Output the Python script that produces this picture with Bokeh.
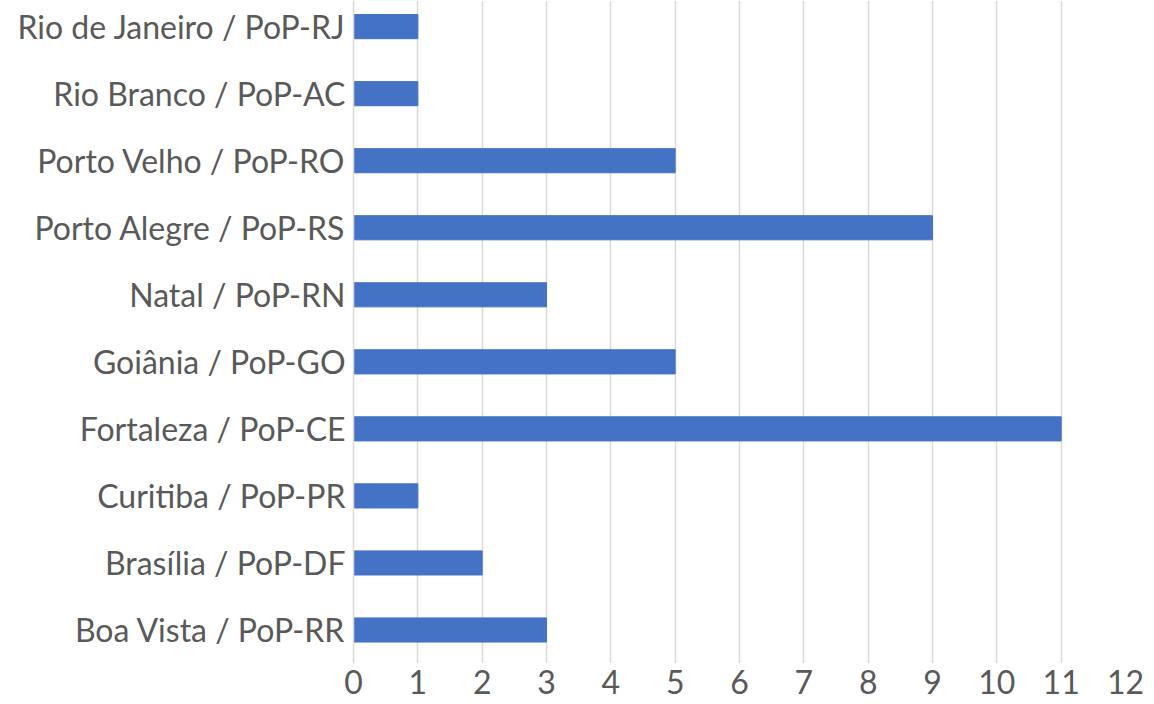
from bokeh.plotting import figure
from bokeh.models import Range1d, FixedTicker
from bokeh.embed import file_html
from bokeh.resources import INLINE

categories = ["Boa Vista / PoP-RR", "Brasília / PoP-DF", "Curitiba / PoP-PR",
              "Fortaleza / PoP-CE", "Goiânia / PoP-GO", "Natal / PoP-RN",
              "Porto Alegre / PoP-RS", "Porto Velho / PoP-RO",
              "Rio Branco / PoP-AC", "Rio de Janeiro / PoP-RJ"]
values = [3, 2, 1, 11, 5, 3, 9, 5, 1, 1]
x_ticks = list(range(0, 13))

positions = list(range(len(categories)))

FONT = "Lato"
TXT = "#595959"

p = figure(width=1146, height=704, output_backend="svg", toolbar_location=None,
           x_range=Range1d(0, 12), y_range=Range1d(-0.5, 9.39),
           frame_width=772, frame_height=663,
           min_border_left=353, min_border_right=21, min_border_top=0, min_border_bottom=41)
p.outline_line_color = None
p.background_fill_color = "white"
p.border_fill_color = "white"

p.hbar(y=positions, right=values, left=0, height=0.36, color="#4472C4")

p.xgrid.grid_line_color = "#d9d9d9"
p.xgrid.grid_line_width = 1.5
p.ygrid.grid_line_color = None

p.xaxis.ticker = FixedTicker(ticks=x_ticks)
p.xaxis.axis_line_color = None
p.xaxis.major_tick_line_color = None
p.xaxis.minor_tick_line_color = None
p.xaxis.major_tick_out = 0
p.xaxis.major_label_standoff = 6
p.xaxis.major_label_text_font = FONT
p.xaxis.major_label_text_font_size = "32px"
p.xaxis.major_label_text_color = TXT

p.yaxis.ticker = FixedTicker(ticks=positions)
p.yaxis.major_label_overrides = {i: c for i, c in zip(positions, categories)}
p.yaxis.axis_line_color = "#d9d9d9"
p.yaxis.axis_line_width = 1.5
p.yaxis.major_tick_line_color = None
p.yaxis.minor_tick_line_color = None
p.yaxis.major_tick_out = 0
p.yaxis.major_label_standoff = 8
p.yaxis.major_label_text_font = FONT
p.yaxis.major_label_text_font_size = "32px"
p.yaxis.major_label_text_color = TXT

open("out.html", "w").write(file_html(p, INLINE))
